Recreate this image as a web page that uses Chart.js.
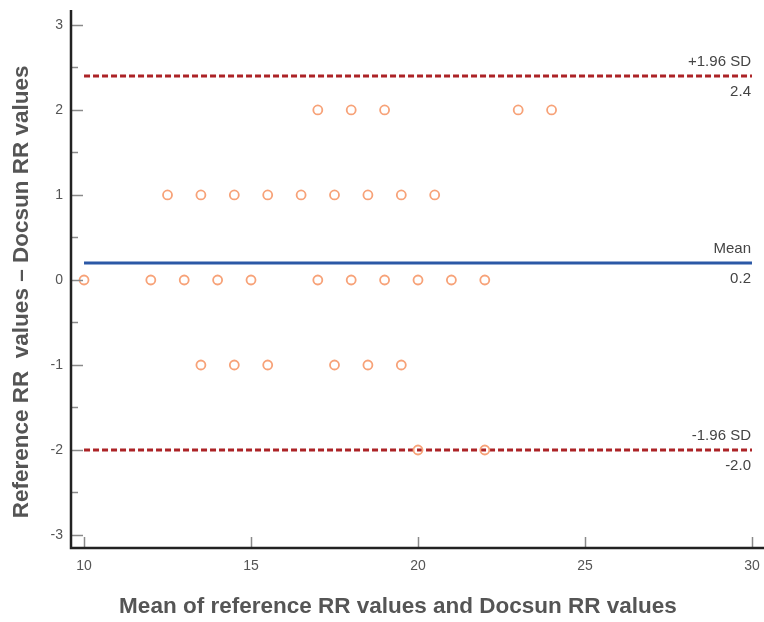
<!DOCTYPE html>
<html>
<head>
<meta charset="utf-8">
<script src="https://cdn.jsdelivr.net/npm/chart.js@4/dist/chart.umd.min.js"></script>
<style>
  html, body { margin: 0; padding: 0; background: #ffffff; }
  #wrap { width: 764px; height: 622px; }
</style>
</head>
<body>
<div id="wrap"><canvas id="c" width="764" height="622"></canvas></div>
<script>
// Mean of the two RR readings (x) and their difference (y), one entry per subject
const meanRR = [17, 18, 19, 23, 24,
                12.5, 13.5, 14.5, 15.5, 16.5, 17.5, 18.5, 19.5, 20.5,
                10, 12, 13, 14, 15, 17, 18, 19, 20, 21, 22,
                13.5, 14.5, 15.5, 17.5, 18.5, 19.5,
                20, 22];
const diffRR = [2, 2, 2, 2, 2,
                1, 1, 1, 1, 1, 1, 1, 1, 1,
                0, 0, 0, 0, 0, 0, 0, 0, 0, 0, 0,
                -1, -1, -1, -1, -1, -1,
                -2, -2];

// Bias and limits of agreement
const meanDiff = 0.2;
const upperLoA = 2.4;
const lowerLoA = -2.0;
const lineStart = 10;
const lineEnd = 30;

// Tick values
const xTicks = [10, 15, 20, 25, 30];
const yTicks = [-3, -2.5, -2, -1.5, -1, -0.5, 0, 0.5, 1, 1.5, 2, 2.5, 3];

// Axis titles
const xTitle = 'Mean of reference RR values and Docsun RR values';
const yTitle = 'Reference RR  values \u2013 Docsun RR values';

const points = meanRR.map((m, i) => ({ x: m, y: diffRR[i] }));
const hLine = v => [{ x: lineStart, y: v }, { x: lineEnd, y: v }];

const FONT = '"Liberation Sans", Arial, sans-serif';

// Inward tick marks, axis lines, axis titles and labels on the reference lines
const decor = {
  id: 'decor',
  afterDatasetsDraw(chart) {
    const { ctx, chartArea: a, scales: { x, y } } = chart;
    ctx.save();
    ctx.strokeStyle = '#8a8a8a';
    ctx.lineWidth = 1.5;
    yTicks.forEach(v => {
      const py = Math.round(y.getPixelForValue(v)) + 0.5;
      const len = Number.isInteger(v) ? 12 : 7;
      ctx.beginPath(); ctx.moveTo(a.left, py); ctx.lineTo(a.left + len, py); ctx.stroke();
    });
    xTicks.forEach(v => {
      const px = Math.round(x.getPixelForValue(v)) + 0.5;
      ctx.beginPath(); ctx.moveTo(px, a.bottom); ctx.lineTo(px, a.bottom - 11); ctx.stroke();
    });

    ctx.strokeStyle = '#222222';
    ctx.lineWidth = 2.5;
    ctx.beginPath();
    ctx.moveTo(a.left, a.top);
    ctx.lineTo(a.left, a.bottom);
    ctx.lineTo(a.right, a.bottom);
    ctx.stroke();

    ctx.fillStyle = '#444444';
    ctx.font = '15px ' + FONT;
    ctx.textAlign = 'right';
    ctx.textBaseline = 'middle';
    const xr = x.getPixelForValue(lineEnd) - 1;
    const tag = (v, above, below) => {
      const py = y.getPixelForValue(v);
      ctx.fillText(above, xr, py - 14);
      ctx.fillText(below, xr, py + 16);
    };
    tag(upperLoA, '+1.96 SD', upperLoA.toFixed(1));
    tag(meanDiff, 'Mean', meanDiff.toFixed(1));
    tag(lowerLoA, '-1.96 SD', lowerLoA.toFixed(1));

    // Axis titles
    ctx.fillStyle = '#555555';
    ctx.font = 'bold 22.5px ' + FONT;
    ctx.textAlign = 'center';
    ctx.textBaseline = 'middle';
    ctx.fillText(xTitle, x.getPixelForValue(19.4), 607);
    ctx.translate(22, y.getPixelForValue(-0.14));
    ctx.rotate(-Math.PI / 2);
    ctx.fillText(yTitle, 0, 0);
    ctx.restore();
  }
};

new Chart(document.getElementById('c'), {
  type: 'scatter',
  data: {
    datasets: [
      {
        data: hLine(upperLoA), showLine: true, borderColor: '#ac2326',
        borderWidth: 3, borderDash: [6, 3], pointRadius: 0, order: 2
      },
      {
        data: hLine(meanDiff), showLine: true, borderColor: '#2b58a6',
        borderWidth: 3, pointRadius: 0, order: 2
      },
      {
        data: hLine(lowerLoA), showLine: true, borderColor: '#ac2326',
        borderWidth: 3, borderDash: [6, 3], pointRadius: 0, order: 2
      },
      {
        data: points, pointRadius: 4.5, pointBorderWidth: 1.8,
        pointBorderColor: '#f7a278', pointBackgroundColor: 'rgba(255,255,255,0)',
        order: 1
      }
    ]
  },
  options: {
    responsive: false,
    animation: false,
    layout: { autoPadding: false, padding: { top: 10, right: 0, left: 0, bottom: 0 } },
    plugins: { legend: { display: false }, tooltip: { enabled: false } },
    scales: {
      x: {
        type: 'linear',
        min: 9.61, max: 30.36,
        afterBuildTicks: s => { s.ticks = xTicks.map(v => ({ value: v })); },
        afterFit: s => { s.height = 74; s.paddingLeft = 0; s.paddingRight = 0; },
        grid: { display: false, drawTicks: false },
        border: { display: false },
        ticks: { color: '#555555', font: { family: FONT, size: 14 }, padding: 10, maxRotation: 0 },
        title: { display: false }
      },
      y: {
        type: 'linear',
        min: -3.153, max: 3.176,
        afterBuildTicks: s => { s.ticks = yTicks.map(v => ({ value: v })); },
        afterFit: s => { s.width = 71; s.paddingTop = 0; s.paddingBottom = 0; },
        grid: { display: false, drawTicks: false },
        border: { display: false },
        ticks: {
          color: '#555555', font: { family: FONT, size: 14 }, padding: 8,
          callback: v => Number.isInteger(v) ? String(v) : ''
        },
        title: { display: false }
      }
    }
  },
  plugins: [decor]
});
</script>
</body>
</html>
